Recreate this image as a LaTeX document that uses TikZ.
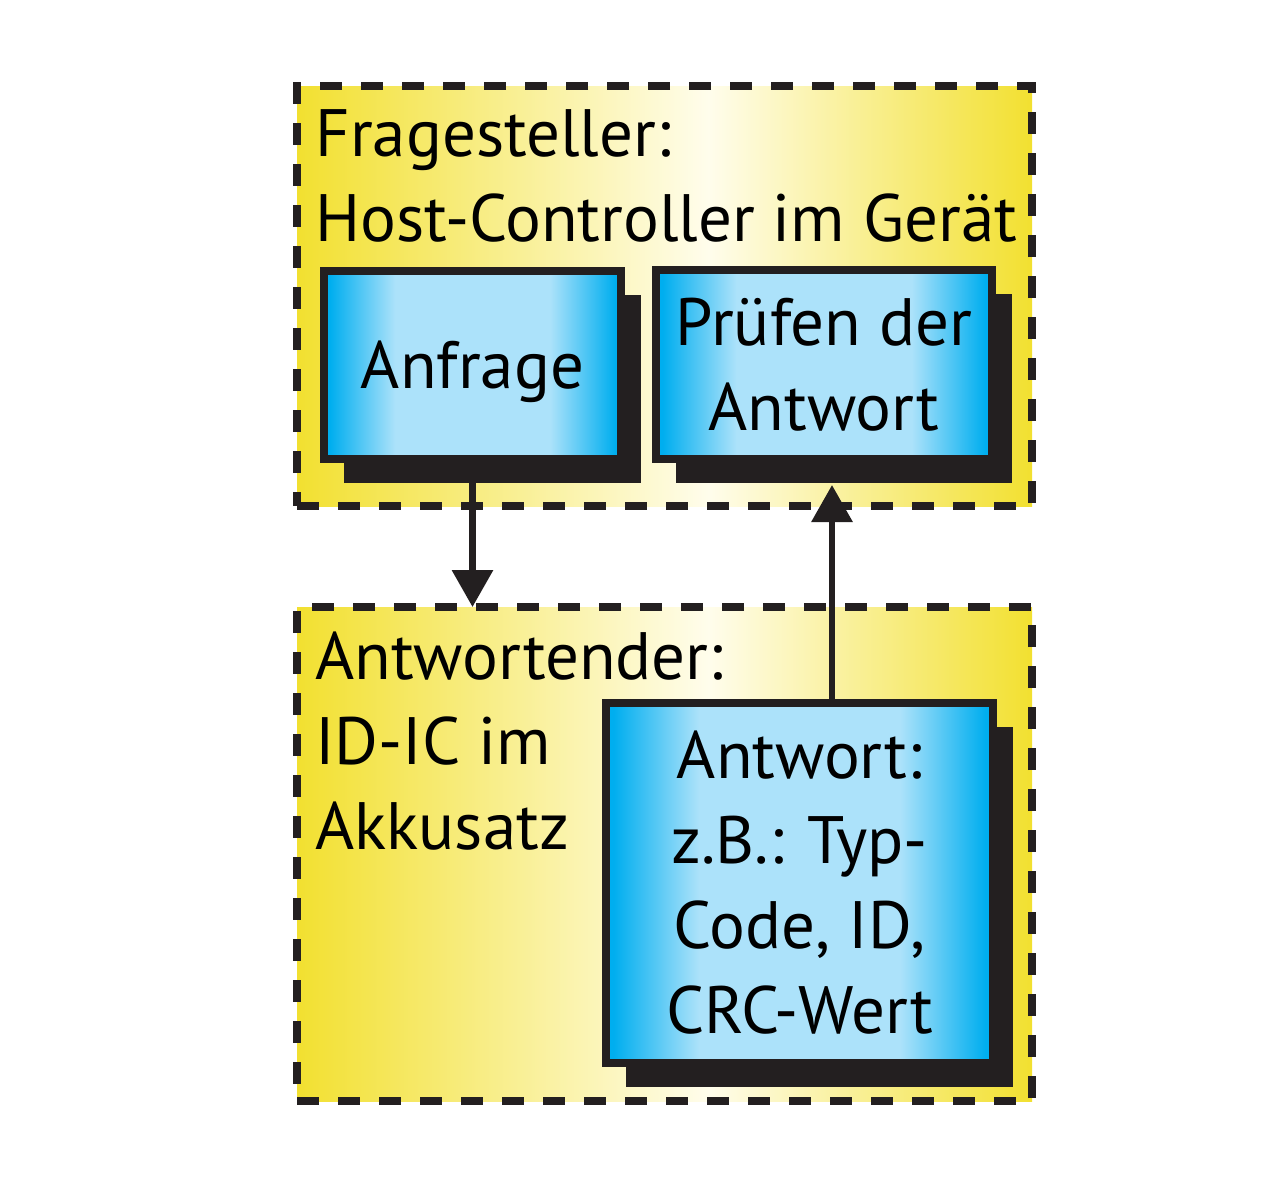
\documentclass[tikz,border=0pt]{standalone}
\usepackage{fontspec}
\setmainfont{PT Sans}
\usetikzlibrary{arrows.meta,shadows,positioning}
\definecolor{dark}{RGB}{35,31,32}
\definecolor{yedge}{RGB}{242,224,48}
\definecolor{ymid}{RGB}{255,253,236}
\definecolor{bedge}{RGB}{0,174,239}
\definecolor{bmid}{RGB}{172,226,250}
\pgfdeclarehorizontalshading{yellowbar}{100bp}{color(0bp)=(yedge); color(25bp)=(yedge); color(53bp)=(ymid); color(75bp)=(yedge); color(100bp)=(yedge)}
\pgfdeclarehorizontalshading{bluebar}{100bp}{color(0bp)=(bedge); color(26bp)=(bedge); color(37bp)=(bmid); color(63bp)=(bmid); color(74bp)=(bedge); color(100bp)=(bedge)}
\tikzstyle{group} = [draw=dark, line width=4pt, dash pattern=on 11pt off 9.5pt, shading=yellowbar, inner sep=0pt, outer sep=0pt]
\tikzstyle{box} = [draw=dark, line width=4pt, shading=bluebar, drop shadow={shadow xshift=10pt, shadow yshift=-12pt, opacity=1, fill=dark}, align=center, inner sep=0pt, outer sep=0pt, font=\fontsize{33.5}{42.5}\selectfont]
\tikzstyle{title} = [anchor=north west, align=left, inner sep=0pt, font=\fontsize{33.5}{42.5}\selectfont]
\tikzstyle{arrow} = [draw=dark, line width=3.2pt, -{Triangle[length=18.5pt,width=20pt]}]

\begin{document}
\begin{tikzpicture}[x=0.5pt,y=-0.5pt]
  \useasboundingbox (0,0) rectangle (1280,1190);

  \node[group, minimum width=367.5pt, minimum height=210pt] (asker) at (664.5,296) {};
  \node[group, minimum width=367.5pt, minimum height=247pt] (replier) at (664.5,854) {};

  \node[title] (askertext) at (315,109) {Fragesteller:\\Host-Controller im Gerät};
  \node[title] (repliertext) at (315,631) {Antwortender:\\ID-IC im\\Akkusatz};

  \node[box, minimum width=148.5pt, minimum height=94pt] (anfrage) at (472.5,365) {\raisebox{-3.5pt}[\height][\depth]{Anfrage}};
  \node[box, minimum width=168pt, minimum height=94.5pt] (pruefen) at (824,364.5) {Prüfen der\\Antwort};
  \node[box, minimum width=193.5pt, minimum height=180pt] (antwort) at (799.5,883) {Antwort:\\z.B.: Typ-\\Code, ID,\\CRC-Wert};

  \coordinate (pruefin) at (832,485);

  \path[arrow] (anfrage.south) -- (anfrage.south |- replier.north);
  \path[arrow] (antwort.north -| pruefin) -- (pruefin);

\end{tikzpicture}
\end{document}
